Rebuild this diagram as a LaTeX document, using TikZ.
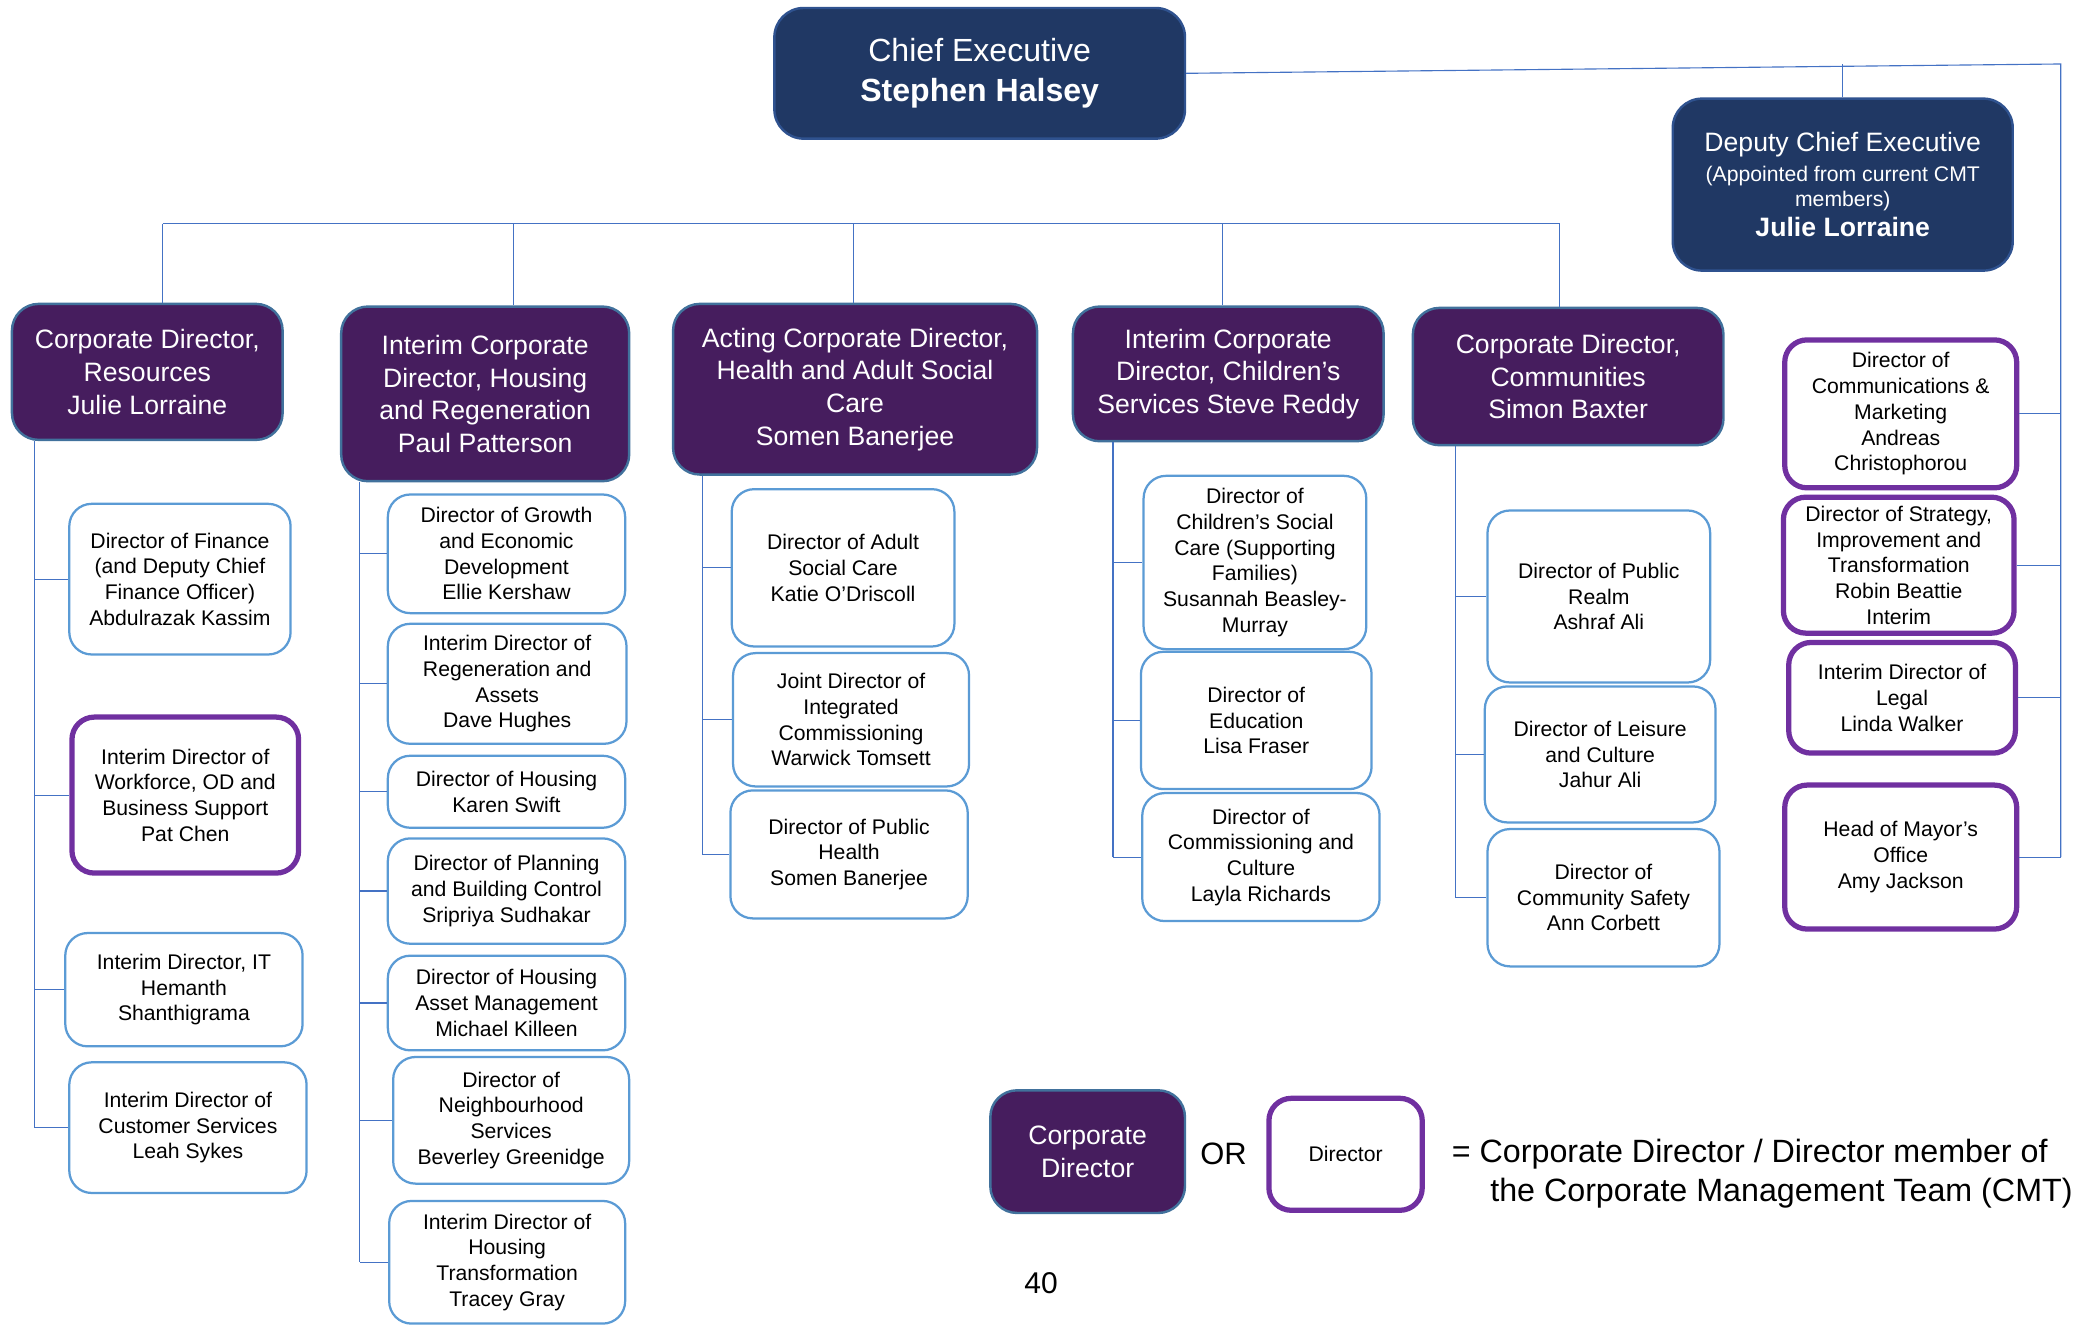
\documentclass[tikz,border=0pt]{standalone}
\usepackage{fontspec}
\setmainfont{Liberation Sans}
\usetikzlibrary{calc}
\definecolor{ceoblue}{HTML}{203864}
\definecolor{ceoedge}{HTML}{2F528F}
\definecolor{cdpurple}{HTML}{461D5E}
\definecolor{cdedge}{HTML}{41719C}
\definecolor{diredge}{HTML}{5B9BD5}
\definecolor{cmtedge}{HTML}{7030A0}
\definecolor{lineblue}{HTML}{4472C4}
\tikzset{
	ceobox/.style={draw=ceoedge, line width=1.3pt, fill=ceoblue, text=white, rounded corners=0.55cm, align=center, font=\fontsize{17.1}{21.3}\selectfont},
	cdbox/.style={draw=cdedge, line width=1.3pt, fill=cdpurple, text=white, rounded corners=0.5cm, align=center, font=\fontsize{14.2}{17.4}\selectfont},
	dirbox/.style={draw=diredge, line width=1.2pt, fill=white, rounded corners=0.42cm, align=center, font=\fontsize{11.3}{13.7}\selectfont},
	cmtbox/.style={dirbox, draw=cmtedge, line width=2.8pt},
	orgline/.style={draw=lineblue, line width=0.6pt},
}

\begin{document}
\begin{tikzpicture}[x=0.025cm, y=-0.025cm]
			%%%%% START %%%%%
			\useasboundingbox (0,0) rectangle (1568,994);
			
			% top row
			\node[ceobox, minimum width=7.7cm, minimum height=2.45cm] (ceo) at (735,55) {Chief Executive\\\textbf{Stephen Halsey}};
			\node[ceobox, minimum width=6.375cm, minimum height=3.225cm, font=\fontsize{14.2}{16}\selectfont] (dep) at (1382.5,138.5) {Deputy Chief Executive\\{\fontsize{11.3}{13.5}\selectfont(Appointed from current CMT}\\[-2.5pt]{\fontsize{11.3}{13.5}\selectfont members)}\\\textbf{Julie Lorraine}};
			
			% corporate directors
			\node[cdbox, minimum width=5.075cm, minimum height=2.55cm] (res) at (110.5,279) {Corporate Director,\\Resources\\Julie Lorraine};
			\node[cdbox, minimum width=5.4cm, minimum height=3.275cm] (hsg) at (364,295.5) {Interim Corporate\\Director, Housing\\and Regeneration\\Paul Patterson};
			\node[cdbox, minimum width=6.825cm, minimum height=3.2cm] (hlth) at (641.5,292) {Acting Corporate Director,\\Health and Adult Social\\Care\\Somen Banerjee};
			\node[cdbox, minimum width=5.825cm, minimum height=2.525cm] (chld) at (921.5,280.5) {Interim Corporate\\Director, Children’s\\Services Steve Reddy};
			\node[cdbox, minimum width=5.825cm, minimum height=2.575cm] (comm) at (1176.5,282.5) {Corporate Director,\\Communities\\Simon Baxter};
			
			% resources
			\node[dirbox, minimum width=4.15cm, minimum height=2.825cm] (fin) at (135,434.5) {Director of Finance\\(and Deputy Chief\\Finance Officer)\\Abdulrazak Kassim};
			\node[cmtbox, minimum width=4.25cm, minimum height=2.925cm] (wfod) at (139,596.5) {Interim Director of\\Workforce, OD and\\Business Support\\Pat Chen};
			\node[dirbox, minimum width=4.45cm, minimum height=2.125cm] (it) at (138,742.5) {Interim Director, IT\\Hemanth\\Shanthigrama};
			\node[dirbox, minimum width=4.45cm, minimum height=2.45cm] (cust) at (141,846) {Interim Director of\\Customer Services\\Leah Sykes};
			
			% housing and regeneration
			\node[dirbox, minimum width=4.45cm, minimum height=2.225cm] (grw) at (380,415.5) {Director of Growth\\and Economic\\Development\\Ellie Kershaw};
			\node[dirbox, minimum width=4.475cm, minimum height=2.25cm] (rgn) at (380.5,513) {Interim Director of\\Regeneration and\\Assets\\Dave Hughes};
			\node[dirbox, minimum width=4.45cm, minimum height=1.35cm] (hdir) at (380,594) {Director of Housing\\Karen Swift};
			\node[dirbox, minimum width=4.45cm, minimum height=1.975cm] (plan) at (380,668.5) {Director of Planning\\and Building Control\\Sripriya Sudhakar};
			\node[dirbox, minimum width=4.45cm, minimum height=1.775cm] (asset) at (380,752.5) {Director of Housing\\Asset Management\\Michael Killeen};
			\node[dirbox, minimum width=4.425cm, minimum height=2.375cm] (nbh) at (383.5,840.5) {Director of\\Neighbourhood\\Services\\Beverley Greenidge};
			\node[dirbox, minimum width=4.425cm, minimum height=2.3cm] (htr) at (380.5,947) {Interim Director of\\Housing\\Transformation\\Tracey Gray};
			
			% health and adult social care
			\node[dirbox, minimum width=4.175cm, minimum height=2.95cm] (asc) at (632.5,426) {Director of Adult\\Social Care\\Katie O’Driscoll};
			\node[dirbox, minimum width=4.425cm, minimum height=2.5cm] (jic) at (638.5,540) {Joint Director of\\Integrated\\Commissioning\\Warwick Tomsett};
			\node[dirbox, minimum width=4.45cm, minimum height=2.4cm] (ph) at (637,641) {Director of Public\\Health\\Somen Banerjee};
			
			% children's services
			\node[dirbox, minimum width=4.175cm, minimum height=3.25cm] (csc) at (941.5,422) {Director of\\Children’s Social\\Care (Supporting\\Families)\\Susannah Beasley-\\Murray};
			\node[dirbox, minimum width=4.325cm, minimum height=2.575cm] (edu) at (942.5,540.5) {Director of\\Education\\Lisa Fraser};
			\node[dirbox, minimum width=4.45cm, minimum height=2.4cm] (cmc) at (946,643) {Director of\\Commissioning and\\Culture\\Layla Richards};
			
			% communities
			\node[dirbox, minimum width=4.175cm, minimum height=3.225cm] (realm) at (1199.5,447.5) {Director of Public\\Realm\\Ashraf Ali};
			\node[dirbox, minimum width=4.325cm, minimum height=2.55cm] (leis) at (1200.5,566) {Director of Leisure\\and Culture\\Jahur Ali};
			\node[dirbox, minimum width=4.35cm, minimum height=2.575cm] (safe) at (1203,673.5) {Director of\\Community Safety\\Ann Corbett};
			
			% reporting to the chief executive
			\node[cmtbox, minimum width=4.35cm, minimum height=2.775cm] (mktg) at (1426,310.5) {Director of\\Communications \&\\Marketing\\Andreas\\Christophorou};
			\node[cmtbox, minimum width=4.325cm, minimum height=2.55cm] (strat) at (1424.5,424) {Director of Strategy,\\Improvement and\\Transformation\\Robin Beattie\\Interim};
			\node[cmtbox, minimum width=4.25cm, minimum height=2.075cm] (legal) at (1427,523.5) {Interim Director of\\Legal\\Linda Walker};
			\node[cmtbox, minimum width=4.35cm, minimum height=2.7cm] (mayor) at (1426,643) {Head of Mayor’s\\Office\\Amy Jackson};
			
			% lines
			\coordinate (rtop) at (1546,48);
			\draw[orgline] (ceo.east) -- (rtop) -- (rtop |- mayor.east);
			\draw[orgline] (dep.north) -- (dep.north |- rtop);
			\foreach \n in {mktg,strat,legal,mayor}
				\draw[orgline] (\n.east) -- (\n.east -| rtop);
			
			\coordinate (b1) at (122,168);
			\coordinate (b2) at (385,168);
			\coordinate (b3) at (640,168);
			\coordinate (b4) at (917,168);
			\coordinate (b5) at (1170,168);
			\draw[orgline] (b1) -- (b5);
			\draw[orgline] (b1) -- (b1 |- res.north);
			\draw[orgline] (b2) -- (b2 |- hsg.north);
			\draw[orgline] (b3) -- (b3 |- hlth.north);
			\draw[orgline] (b4) -- (b4 |- chld.north);
			\draw[orgline] (b5) -- (b5 |- comm.north);
			
			\coordinate (s1) at (26,0);
			\coordinate (s2) at (270,0);
			\coordinate (s3) at (527,0);
			\coordinate (s4) at (835,0);
			\coordinate (s5) at (1092,0);
			\draw[orgline] (s1 |- res.south) -- (s1 |- cust.west);
			\draw[orgline] (s2 |- hsg.south) -- (s2 |- htr.west);
			\draw[orgline] (s3 |- hlth.south) -- (s3 |- ph.west);
			\draw[orgline] (s4 |- chld.south) -- (s4 |- cmc.west);
			\draw[orgline] (s5 |- comm.south) -- (s5 |- safe.west);
			\foreach \n in {fin,wfod,it,cust}
				\draw[orgline] (s1 |- \n.west) -- (\n.west);
			\foreach \n in {grw,rgn,hdir,plan,asset,nbh,htr}
				\draw[orgline] (s2 |- \n.west) -- (\n.west);
			\foreach \n in {asc,jic,ph}
				\draw[orgline] (s3 |- \n.west) -- (\n.west);
			\foreach \n in {csc,edu,cmc}
				\draw[orgline] (s4 |- \n.west) -- (\n.west);
			\foreach \n in {realm,leis,safe}
				\draw[orgline] (s5 |- \n.west) -- (\n.west);
			
			% key
			\node[cdbox, minimum width=3.65cm, minimum height=2.3cm] (legcd) at (816,864) {Corporate\\Director};
			\node[font=\fontsize{16.5}{20}\selectfont] (orword) at (918,866) {OR};
			\node[cmtbox, minimum width=2.875cm, minimum height=2.1cm] (legdir) at (1009.5,866) {Director};
			\node[anchor=west, inner sep=0pt, align=left, font=\fontsize{17.2}{20.6}\selectfont] (note) at (1089,880.5) {= Corporate Director / Director member of\\\hspace*{0.72cm}the Corporate Management Team (CMT)};
			
			\node[font=\fontsize{16}{19}\selectfont] (pgno) at (781,963) {40};
			
			%%%%% END %%%%%
\end{tikzpicture}
\end{document}
